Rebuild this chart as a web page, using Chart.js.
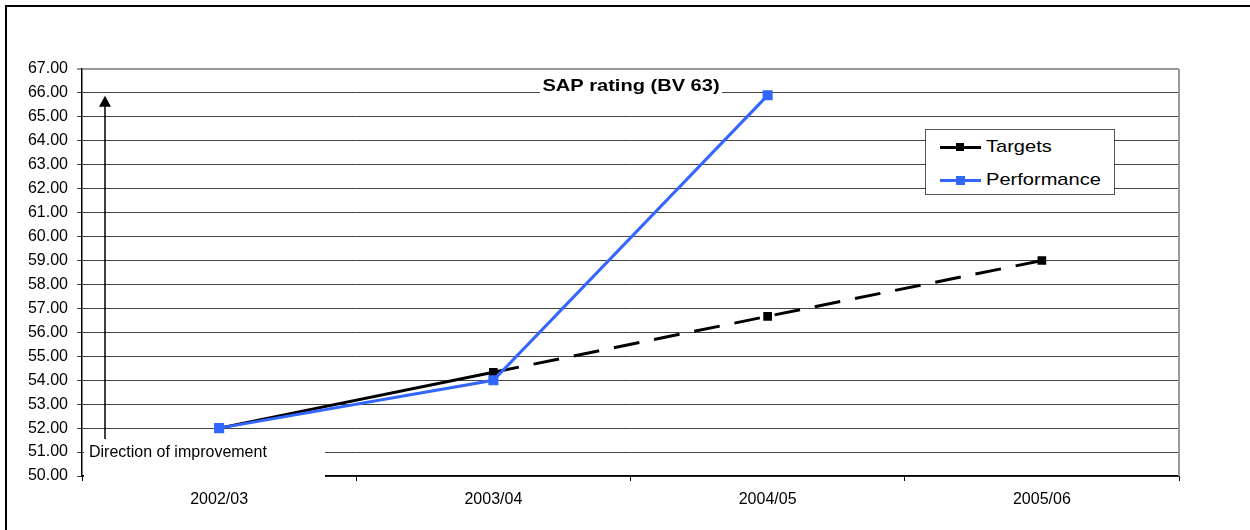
<!DOCTYPE html>
<html>
<head>
<meta charset="utf-8">
<script src="https://cdn.jsdelivr.net/npm/chart.js@4.4.0/dist/chart.umd.min.js"></script>
<style>
  html, body { margin: 0; padding: 0; background: #fff; }
  #wrap { position: relative; width: 1250px; height: 530px; }
  #legend {
    position: absolute; left: 925px; top: 129px; width: 188px; height: 64px;
    border: 1px solid #555; background: #fff;
    font-family: "Liberation Sans", Arial, sans-serif; font-size: 17px; color: #000;
  }
  .row { position: absolute; left: 0; height: 20px; display: flex; align-items: center; white-space: nowrap; }
  .sw { position: relative; width: 41px; height: 3px; margin-left: 14px; margin-right: 5px; }
  .sw i { position: absolute; left: 16px; top: -3px; width: 9px; height: 9px; }
  .lbl { display: inline-block; transform: scaleX(1.18); transform-origin: left center; }
</style>
</head>
<body>
<div id="wrap">
  <canvas id="chart"></canvas>
  <div id="legend"></div>
</div>
<script>
/* SAP rating line chart */
const CATEGORIES  = ['2002/03', '2003/04', '2004/05', '2005/06'];
const TARGETS     = [52.00, 54.33, 56.67, 59.00];
const PERFORMANCE = [52.00, 54.00, 65.90, null];
const Y_MIN = 50, Y_MAX = 67, Y_STEP = 1;

const TITLE = 'SAP rating (BV 63)';
const NOTE  = 'Direction of improvement';
const FONT  = '"Liberation Sans", Arial, sans-serif';

/* ── Extras: frame, title, arrow note ───────────────────────────────── */
const extras = {
  id: 'extras',
  beforeDatasetsDraw(chart) {
    const { ctx, chartArea: a, scales: { y } } = chart;
    ctx.save();

    // right edge of plot area
    ctx.strokeStyle = '#999';
    ctx.lineWidth = 2;
    ctx.beginPath();
    ctx.moveTo(a.right, a.top);
    ctx.lineTo(a.right, a.bottom);
    ctx.stroke();

    // title, sitting inside the plot on a white box
    ctx.fillStyle = '#fff';
    ctx.fillRect(540, a.top + 6, 182, 19);
    ctx.translate(631, a.top + 22);
    ctx.scale(1.18, 1);
    ctx.fillStyle = '#000';
    ctx.font = 'bold 17px ' + FONT;
    ctx.textAlign = 'center';
    ctx.textBaseline = 'alphabetic';
    ctx.fillText(TITLE, 0, 0);
    ctx.restore();

    // "direction of improvement" arrow + label box
    ctx.save();
    const ax = a.left + 23;
    const tip = y.getPixelForValue(65.88);
    ctx.strokeStyle = '#000';
    ctx.lineWidth = 1.5;
    ctx.beginPath();
    ctx.moveTo(ax, y.getPixelForValue(51.55));
    ctx.lineTo(ax, tip + 8);
    ctx.stroke();
    ctx.fillStyle = '#000';
    ctx.beginPath();
    ctx.moveTo(ax, tip);
    ctx.lineTo(ax - 6, tip + 11);
    ctx.lineTo(ax + 6, tip + 11);
    ctx.closePath();
    ctx.fill();

    ctx.fillStyle = '#fff';
    ctx.fillRect(a.left + 2, y.getPixelForValue(51.47), 241, 40);
    ctx.fillStyle = '#000';
    ctx.font = '16px ' + FONT;
    ctx.textAlign = 'left';
    ctx.textBaseline = 'middle';
    ctx.fillText(NOTE, a.left + 7, y.getPixelForValue(51) + 1);
    ctx.restore();
  },
  afterDraw(chart) {
    const { ctx } = chart;
    ctx.save();
    ctx.strokeStyle = '#000';
    ctx.lineWidth = 2;
    ctx.beginPath();
    ctx.moveTo(6, 530);
    ctx.lineTo(6, 6);
    ctx.lineTo(1250, 6);
    ctx.stroke();
    ctx.restore();
  }
};

const chart = new Chart(document.getElementById('chart'), {
  type: 'line',
  data: {
    labels: CATEGORIES,
    datasets: [{
      label: 'Targets',
      data: TARGETS,
      order: 1,
      borderColor: '#000',
      backgroundColor: '#000',
      borderWidth: 3,
      pointStyle: 'rect',
      pointRadius: 4,
      pointHoverRadius: 4,
      tension: 0,
      segment: { borderDash: c => c.p0DataIndex >= 1 ? [26, 15] : undefined }
    }, {
      label: 'Performance',
      data: PERFORMANCE,
      order: 0,
      borderColor: '#3366ff',
      backgroundColor: '#3366ff',
      borderWidth: 3,
      pointStyle: 'rect',
      pointRadius: 5,
      pointHoverRadius: 5,
      tension: 0
    }]
  },
  options: {
    responsive: true,
    maintainAspectRatio: false,
    animation: false,
    clip: false,
    layout: { padding: { left: 7, top: 69, right: 71, bottom: 14 } },
    plugins: {
      legend: { display: false },
      title: { display: false },
      tooltip: { enabled: false }
    },
    scales: {
      x: {
        offset: true,
        afterFit: s => { s.height = 40; },
        grid: { offset: true, drawOnChartArea: false, tickLength: 5, color: '#000' },
        border: { color: '#000', width: 1.5 },
        ticks: { color: '#000', font: { family: FONT, size: 16 }, padding: 9, maxRotation: 0 }
      },
      y: {
        min: Y_MIN,
        max: Y_MAX,
        afterFit: s => { s.width = 75; },
        grid: {
          tickLength: 5,
          color: c => c.tick && c.tick.value === Y_MAX ? '#999' : '#444',
          lineWidth: c => c.tick && c.tick.value === Y_MAX ? 2 : 1
        },
        border: { color: '#000', width: 1.5 },
        ticks: {
          stepSize: Y_STEP,
          color: '#000',
          font: { family: FONT, size: 16 },
          padding: 9,
          callback: v => Number(v).toFixed(2)
        }
      }
    }
  },
  plugins: [extras]
});

/* ── HTML legend built from the datasets ────────────────────────────── */
const legend = document.getElementById('legend');
chart.data.datasets.forEach((ds, i) => {
  const row = document.createElement('div');
  row.className = 'row';
  row.style.top = (7 + i * 33) + 'px';
  const sw = document.createElement('span');
  sw.className = 'sw';
  sw.style.background = ds.borderColor;
  const dot = document.createElement('i');
  dot.style.background = ds.backgroundColor;
  if (i === 0) { dot.style.width = '8px'; dot.style.height = '8px'; dot.style.top = '-2.5px'; }
  sw.appendChild(dot);
  const lbl = document.createElement('span');
  lbl.className = 'lbl';
  lbl.textContent = ds.label;
  row.appendChild(sw);
  row.appendChild(lbl);
  legend.appendChild(row);
});
</script>
</body>
</html>
